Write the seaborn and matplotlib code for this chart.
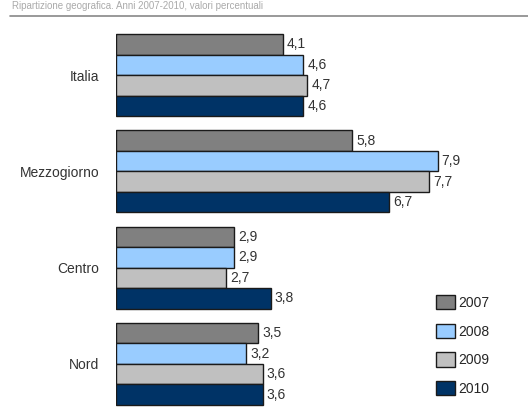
import matplotlib
matplotlib.use("Agg")
import matplotlib.pyplot as plt
import seaborn as sns
import pandas as pd
from matplotlib.lines import Line2D

areas = ["Italia", "Mezzogiorno", "Centro", "Nord"]
years = ["2007", "2008", "2009", "2010"]
v2007 = [4.1, 5.8, 2.9, 3.5]
v2008 = [4.6, 7.9, 2.9, 3.2]
v2009 = [4.7, 7.7, 2.7, 3.6]
v2010 = [4.6, 6.7, 3.8, 3.6]
colors = ["#808080", "#99CCFF", "#C0C0C0", "#003366"]
title = "Ripartizione geografica. Anni 2007-2010, valori percentuali"

rows = []
for yr, vals in zip(years, [v2007, v2008, v2009, v2010]):
    for a, v in zip(areas, vals):
        rows.append({"area": a, "anno": yr, "valore": v})
df = pd.DataFrame(rows)

sns.set_style("white")
plt.rcParams["font.family"] = ["Liberation Sans", "DejaVu Sans"]

fig = plt.figure(figsize=(5.28, 4.12), dpi=100)
ax = fig.add_axes([116/528, 0.0, (523-116)/528, (412-27)/412])

sns.barplot(data=df, y="area", x="valore", hue="anno", order=areas,
            hue_order=years, palette=colors, orient="h", width=0.85,
            edgecolor="#1a1a1a", linewidth=1.0, ax=ax, errorbar=None,
            saturation=1)

for cont in ax.containers:
    labs = [f"{b.get_width():.1f}".replace(".", ",") for b in cont]
    ax.bar_label(cont, labels=labs, padding=3, fontsize=10, color="#333333")

ax.set_xlim(0, 10)
ax.set_ylim(3.5, -0.5)
ax.set_xlabel("")
ax.set_ylabel("")
ax.set_xticks([])
ax.tick_params(axis="y", length=0, pad=12, labelsize=10, labelcolor="#333333")
for s in ax.spines.values():
    s.set_visible(False)

ax.legend(loc="upper left", bbox_to_anchor=(436/528, 1 - 295/412),
          bbox_transform=fig.transFigure, frameon=False,
          fontsize=10, handlelength=1.4, handleheight=1.2, handletextpad=0.2,
          labelspacing=1.0, borderaxespad=0, borderpad=0)

fig.text(12/528, 1 - 1/412, title, fontsize=7, color="#aaaaaa", va="top")
fig.add_artist(Line2D([10/528, 1.0], [1 - 16/412, 1 - 16/412],
                      color="#888888", linewidth=1.2))

fig.savefig("out.png", dpi=100)
